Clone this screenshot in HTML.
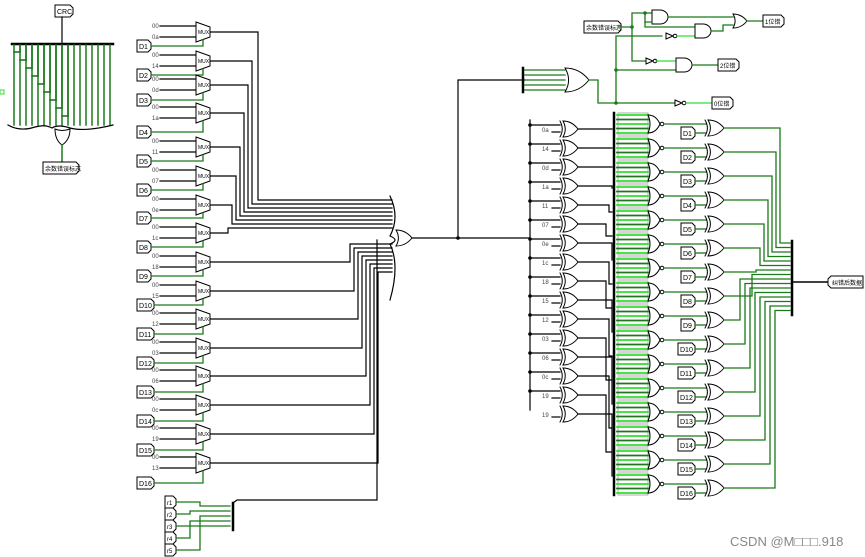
<!DOCTYPE html>
<html><head><meta charset="utf-8"><style>
html,body{margin:0;padding:0;background:#fff;width:865px;height:557px;overflow:hidden}
svg{display:block}
text{font-family:"Liberation Sans","Noto Sans CJK SC",sans-serif}
</style></head><body>
<svg id="s" width="865" height="557" viewBox="0 0 865 557" xmlns="http://www.w3.org/2000/svg">
<g id="g" fill="none" stroke-linecap="square"></g>
<text x="730" y="546" font-size="13" fill="#888">CSDN @M□□□.918</text>
</svg>
<script>
var G=document.getElementById('g'),NS='http://www.w3.org/2000/svg';
function el(t,a,txt){var e=document.createElementNS(NS,t);for(var k in a)e.setAttribute(k,a[k]);if(txt!=null)e.textContent=txt;G.appendChild(e);return e;}
var BK='#000',GR='#1a7a1a',LG='#33dd33';
function L(pts,c,w){el('polyline',{points:pts.map(p=>p.join(',')).join(' '),stroke:c||BK,'stroke-width':w||1.2});}
function dot(x,y,c){el('circle',{cx:x,cy:y,r:1.8,fill:c||BK,stroke:'none'});}
function lab(x,y,w,t,fs){el('path',{d:`M${x} ${y-6}h${w}l3 3v6l-3 3h-${w}z`,stroke:BK,'stroke-width':1,fill:'#fff'});el('text',{x:x+2,y:y+3,'font-size':fs||7,fill:BK,stroke:'none'},t);}
function labL(x,y,w,t,fs){el('path',{d:`M${x+3} ${y-6}h${w}v12h-${w}l-3-3v-6z`,stroke:BK,'stroke-width':1,fill:'#fff'});el('text',{x:x+4,y:y+3,'font-size':fs||7,fill:BK,stroke:'none'},t);}
function orG(x,y,w,h,xor){
 el('path',{d:`M${x} ${y-h/2}Q${x+w*0.6} ${y-h/2} ${x+w} ${y}Q${x+w*0.6} ${y+h/2} ${x} ${y+h/2}Q${x+w*0.3} ${y} ${x} ${y-h/2}z`,stroke:BK,'stroke-width':1,fill:'#fff'});
 if(xor)el('path',{d:`M${x-3} ${y-h/2}Q${x+w*0.3-3} ${y} ${x-3} ${y+h/2}`,stroke:BK,'stroke-width':1});}
function andG(x,y,w,h){el('path',{d:`M${x} ${y-h/2}h${w/2}a${w/2} ${h/2} 0 0 1 0 ${h}h-${w/2}z`,stroke:BK,'stroke-width':1,fill:'#fff'});}
function notG(x,y){el('path',{d:`M${x} ${y-3}l7 3l-7 3z`,stroke:BK,'stroke-width':1,fill:'#fff'});el('circle',{cx:x+9,cy:y,r:1.8,stroke:BK,'stroke-width':1,fill:'#fff'});}
function sm(x,y,t){el('text',{x:x,y:y,'font-size':6,fill:'#444',stroke:'none'},t);}

/* left CRC panel */
lab(55,11,15,'CRC');L([[62,17],[62,44]]);
L([[12,44],[113,44]],BK,2.5);
for(var i=0;i<17;i++){var x=14+i*6;L([[x,45],[x,125]],GR,1.5);}
for(var i=0;i<9;i++){var x=20+i*6,y=52+i*8;L([[x-6,y],[x,y]],GR,1.6);L([[x,46],[x,y]],GR,1.6);}
el('path',{d:'M8 125Q20 132 35 127Q45 124 52 128Q58 124 70 128Q85 132 113 125',stroke:BK,'stroke-width':1.2});
el('path',{d:'M55 129Q62 132 70 129Q70 140 62 145Q55 140 55 129z',stroke:BK,'stroke-width':1,fill:'#fff'});
L([[62,145],[62,162]],GR,1.5);lab(43,168,33,'余数错误标志',6);
el('rect',{x:0,y:90,width:4,height:4,stroke:LG,'stroke-width':1});

/* MUX column */
var mt=[22,51,75,103,137,166,195,223,252,281,309,338,366,395,424,453];
var dl=[46,75,100,132,161,190,218,247,276,305,334,363,392,421,450,483];
var cst=['0a','14','0d','1a','11','07','0e','1c','18','15','12','03','06','0c','19','13'];
var tx=[258,252,248,244,240,236,232,228];
for(var i=0;i<16;i++){
 var y=mt[i];
 sm(152,y+6,'00');sm(152,y+17,cst[i]);
 L([[160,y+4],[196,y+4]]);L([[160,y+15],[196,y+15]]);
 el('path',{d:`M196 ${y}l14 5v10l-14 5z`,stroke:BK,'stroke-width':1,fill:'#fff'});
 el('text',{x:198,y:y+12,'font-size':5,fill:BK,stroke:'none'},'MUX');
 var w=i>=9?14:11;
 lab(137,dl[i],w,'D'+(i+1),7);
 L([[137+w+3,dl[i]],[203,dl[i]],[203,y+18]],GR,1.3);
 var yo=y+10;
 if(i<8){var vx=tx[i],ty=200+i*4;L([[210,yo],[vx,yo],[vx,ty],[392,ty]]);}
 else{var j=i-8,vx=350+j*4,ty=244+j*4;L([[210,yo],[vx,yo],[vx,ty],[392,ty]]);}
}
el('path',{d:'M390 196Q400 217 390 236Q400 240 390 244Q400 265 390 300',stroke:BK,'stroke-width':1.2});
orG(396,238,16,16,false);
L([[412,238],[530,238]]);dot(458,238);L([[458,238],[458,80],[525,80]]);

/* r1..r5 */
var ry=[502,514,526,538,550];
for(var i=0;i<5;i++){lab(165,ry[i],8,'r'+(i+1),6);L([[176,ry[i]],[200-(i%2)*10,ry[i]],[200-(i%2)*10,506+i*5],[230,506+i*5]],GR,1.3);}
L([[233,503],[233,530]],BK,2.5);L([[233,503],[237,500],[377,500],[377,240]]);

/* top right */
L([[523,68],[523,92]],BK,2.5);
for(var i=0;i<5;i++)L([[525,70+i*5],[565,70+i*5]],GR,1.3);
orG(565,80,24,24,false);
L([[589,80],[598,80],[598,103],[675,103]],GR,1.3);notG(675,103);L([[686,103],[712,103]],LG,1.3);lab(712,103,18,'0位错',6);
lab(584,27,34,'余数错误标志',6);
L([[618,27],[632,27],[632,13],[652,13]],GR,1.3);
L([[632,27],[632,61],[646,61]],GR,1.3);notG(646,61);L([[656,61],[676,61]],LG,1.3);dot(632,27,GR);
L([[616,103],[616,36],[662,36]],GR,1.3);dot(616,70,GR);dot(616,103,GR);L([[616,70],[676,70]],GR,1.3);
notG(666,36);L([[677,36],[695,36]],LG,1.3);
andG(652,17,16,14);L([[645,13],[645,22],[652,22]],GR,1.3);dot(645,13,GR);
L([[645,22],[645,27],[695,27]],GR,1.3);
andG(695,31,16,14);andG(676,65,16,14);
L([[668,17],[733,17]],GR,1.3);L([[711,31],[723,31],[723,25],[733,25]],GR,1.3);
orG(733,21,14,14,false);L([[747,21],[763,21]],GR,1.3);lab(763,21,18,'1位错',6);
L([[692,65],[718,65]],GR,1.3);lab(718,65,18,'2位错',6);

/* right XOR column */
var xc=['0a','14','0d','1a','11','07','0e','1c','18','15','12','03','06','0c','19'];
L([[530,120],[530,410]]);
for(var i=0;i<16;i++){
 var y=129+i*19;
 if(i<15){L([[530,y-4],[560,y-4]]);dot(530,y-4);sm(542,y+3,xc[i]);L([[552,y+3],[560,y+3]]);}
 else{sm(542,y+3,'19');L([[552,y+3],[560,y+3]]);}
 orG(563,y,15,16,true);
 var bx=612-(i%3)*3;
 var by=116+i*24;
 L([[578,y],[bx,y],[bx,Math.max(y,by)],[612,Math.max(y,by)]]);
}
for(var b=0;b<16;b++){
 var y0=113+b*24;
 L([[614,y0],[614,y0+22]],BK,2.5);
 el('rect',{x:618,y:y0,width:30,height:22,stroke:'#7a7a7a','stroke-width':0.6,fill:'#fff'});
 for(var k=0;k<5;k++)L([[617,y0+2+k*4.5],[648,y0+2+k*4.5]],k%2?GR:LG,1.8);
 el('path',{d:`M648 ${y0+2}Q656 ${y0+2} 660 ${y0+11}Q656 ${y0+20} 648 ${y0+20}Q652 ${y0+11} 648 ${y0+2}z`,stroke:BK,'stroke-width':1,fill:'#fff'});
 el('circle',{cx:662,cy:y0+11,r:1.8,stroke:BK,'stroke-width':1,fill:'#fff'});
 var dy=y0+20;
 L([[664,y0+11],[706,y0+11]],GR,1.3);
 var w=b>=9?14:11, lx=b>=9?678:681;
 lab(lx,dy,w,'D'+(b+1),7);L([[lx+w+3,dy],[706,dy]],GR,1.3);
 orG(708,y0+15,16,16,true);
 var oy=y0+15, ty=243+b*4.5;
 var vx=b<8?(780-b*4):(740+(b-8)*5);
 L([[724,oy],[vx,oy],[vx,ty],[790,ty]],GR,1.3);
}
L([[792,241],[792,315]],BK,2.5);L([[792,282],[828,282]],BK,1.6);labL(828,282,32,'纠错后数据',6);
</script>
</body></html>
